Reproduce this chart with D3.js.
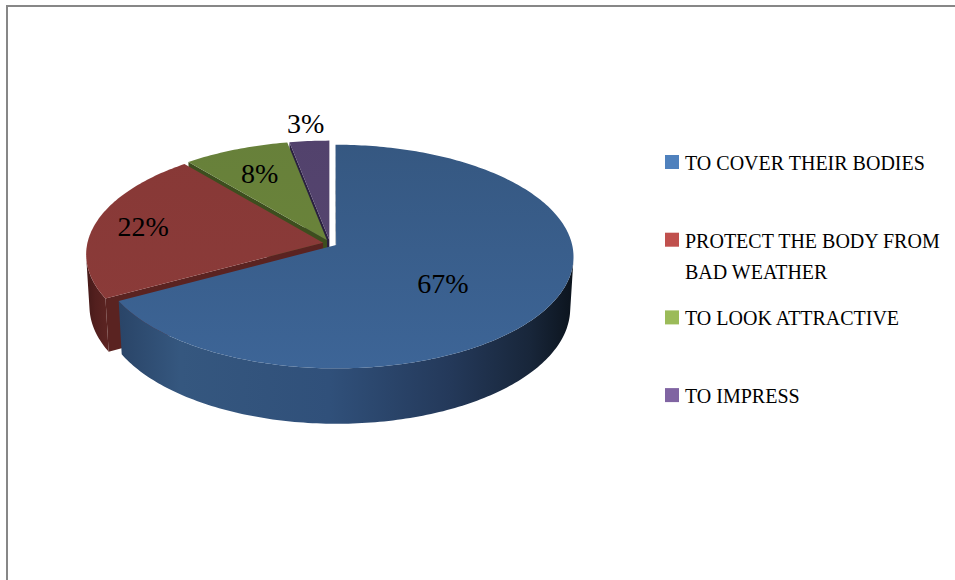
<!DOCTYPE html>
<html lang="en">
<head>
    <meta charset="UTF-8">
    <title>Reasons for wearing clothes</title>
    <script src="https://d3js.org/d3.v7.min.js"></script>
    <style>
        body {margin:0;background:#fff}
        svg {display:block}
    </style>
</head>
<body>
    <div id="chart"></div>
    <script>
        // data
        var categories = ["TO COVER THEIR BODIES", "PROTECT THE BODY FROM BAD WEATHER", "TO LOOK ATTRACTIVE", "TO IMPRESS"];
        var values = [67, 22, 8, 3];
        var valueLabels = ["67%", "22%", "8%", "3%"];

        // colours
        var legendColors = ["#4F81BD", "#C0504D", "#9BBB59", "#8064A2"];
        var topColors = [["#355780", "#3d6597"], ["#873836", "#8c3c3a"], ["#67803a", "#6c863a"], ["#52426c", "#574671"]];
        // side wall shading, left to right across the pie: [offset, colour]
        var sideStops = [
            [[0, "#22395a"], [0.08, "#2a4568"], [0.2, "#35577f"], [0.5, "#30507a"], [0.74, "#24395a"], [0.9, "#18263a"], [1, "#0a1119"]],
            [[0, "#3a1514"], [0.03, "#521f1e"], [0.06, "#5e2523"], [1, "#4f1e1d"]],
            [[0, "#3f501f"], [1, "#2c3815"]],
            [[0, "#2f2442"], [1, "#1d1629"]]
        ];
        var faceColors = ["#22374f", "#5a2321", "#3d4e1e", "#2a2040"];

        var W = 955, H = 580;
        var cx = 330, cy = 243.3;          // pie centre on screen
        var f = 2020, D = 8.57;            // focal length, camera distance (in radii)
        var tilt = 27.9 * Math.PI / 180;
        var depth = 0.25, explode = 0.03;
        var sinT = Math.sin(tilt), cosT = Math.cos(tilt);
        var labelR = [0.55, 0.79, 0.72, 1.2];
        var labelTurn = [7, 0, 0, 0];

        var svg = d3.select("#chart").append("svg")
            .attr("width", W)
            .attr("height", H);

        // frame (cut off at right and bottom)
        svg.append("rect")
            .attr("x", 7).attr("y", 6)
            .attr("width", 1200).attr("height", 1200)
            .attr("fill", "none")
            .attr("stroke", "#878787")
            .attr("stroke-width", 2);

        function project(x, y, z) {
            var s = y * cosT + z * sinT;
            var w = D - y * sinT + z * cosT;
            return [cx + f * x / w, cy - f * s / w];
        }

        function signedArea(p) {
            var s = 0;
            for (var i = 0; i < p.length; i++) {
                var j = (i + 1) % p.length;
                s += p[i][0] * p[j][1] - p[j][0] * p[i][1];
            }
            return s / 2;
        }

        function pathOf(p) {
            return "M" + p.map(d => d[0].toFixed(2) + "," + d[1].toFixed(2)).join("L") + "Z";
        }

        var arcs = d3.pie().sort(null).value(d => d)(values);
        arcs.forEach(function(a, i) {
            var mid = (a.startAngle + a.endAngle) / 2;
            a.i = i;
            a.mid = mid;
            a.ox = explode * Math.sin(mid);
            a.oz = explode * Math.cos(mid);
        });

        function rim(a, t, y) { return project(a.ox + Math.sin(t), y, a.oz + Math.cos(t)); }
        function apex(a, y) { return project(a.ox, y, a.oz); }

        var defs = svg.append("defs");
        arcs.forEach(function(a, i) {
            var g = defs.append("linearGradient")
                .attr("id", "side" + i)
                .attr("gradientUnits", "userSpaceOnUse")
                .attr("x1", cx - 250).attr("x2", cx + 250)
                .attr("y1", 0).attr("y2", 0);
            sideStops[i].forEach(function(s) {
                g.append("stop").attr("offset", s[0]).attr("stop-color", s[1]);
            });
            var t = defs.append("linearGradient")
                .attr("id", "top" + i)
                .attr("gradientUnits", "userSpaceOnUse")
                .attr("x1", 0).attr("x2", 0)
                .attr("y1", cy - 110).attr("y2", cy + 125);
            t.append("stop").attr("offset", 0).attr("stop-color", topColors[i][0]);
            t.append("stop").attr("offset", 1).attr("stop-color", topColors[i][1]);
        });

        // back to front
        var order = arcs.slice().sort((p, q) => q.oz - p.oz);
        var pie = svg.append("g");

        order.forEach(function(a) {
            var g = pie.append("g");
            var n = Math.max(2, Math.ceil((a.endAngle - a.startAngle) / (Math.PI / 180)));
            var ts = d3.range(n + 1).map(k => a.startAngle + (a.endAngle - a.startAngle) * k / n);

            // outer wall, only segments facing the camera
            var run = [];
            function flush() {
                if (run.length > 1) {
                    var topPts = run.map(t => rim(a, t, 0));
                    var botPts = run.map(t => rim(a, t, -depth)).reverse();
                    g.append("path").attr("d", pathOf(topPts.concat(botPts))).attr("fill", "url(#side" + a.i + ")");
                }
                run = [];
            }
            for (var k = 0; k < n; k++) {
                var q = [rim(a, ts[k], 0), rim(a, ts[k + 1], 0), rim(a, ts[k + 1], -depth), rim(a, ts[k], -depth)];
                if (signedArea(q) < 0) {
                    if (run.length === 0) run.push(ts[k]);
                    run.push(ts[k + 1]);
                } else flush();
            }
            flush();

            // radial faces
            var s0 = [apex(a, 0), rim(a, a.startAngle, 0), rim(a, a.startAngle, -depth), apex(a, -depth)];
            if (signedArea(s0) < 0) g.append("path").attr("d", pathOf(s0)).attr("fill", faceColors[a.i]);
            var s1 = [apex(a, 0), rim(a, a.endAngle, 0), rim(a, a.endAngle, -depth), apex(a, -depth)];
            if (signedArea(s1) > 0) g.append("path").attr("d", pathOf(s1)).attr("fill", faceColors[a.i]);

            // top
            var topFace = [apex(a, 0)].concat(ts.map(t => rim(a, t, 0)));
            g.append("path").attr("d", pathOf(topFace)).attr("fill", "url(#top" + a.i + ")");
        });

        // value labels
        arcs.forEach(function(a, i) {
            var t = a.mid + labelTurn[i] * Math.PI / 180;
            var p = project(a.ox + labelR[i] * Math.sin(t), 0, a.oz + labelR[i] * Math.cos(t));
            svg.append("text")
                .attr("x", p[0])
                .attr("y", p[1])
                .attr("dy", "0.35em")
                .attr("text-anchor", "middle")
                .attr("font-family", "'Liberation Serif', serif")
                .attr("font-size", "28px")
                .attr("fill", "#000")
                .text(valueLabels[i]);
        });

        // legend
        var legend = svg.append("g").attr("transform", "translate(665,155)");
        categories.forEach(function(c, i) {
            var item = legend.append("g").attr("transform", `translate(0,${i * 77.7})`);
            item.append("rect")
                .attr("width", 14).attr("height", 14)
                .attr("fill", legendColors[i]);
            var text = item.append("text")
                .attr("x", 20)
                .attr("y", 15)
                .attr("font-family", "'Liberation Serif', serif")
                .attr("font-size", "20px")
                .attr("fill", "#000");
            // wrap long entries
            var words = c.split(" "), line = [];
            var tspan = text.append("tspan").attr("x", 20).attr("dy", 0);
            words.forEach(function(w) {
                line.push(w);
                tspan.text(line.join(" "));
                if (tspan.node().getComputedTextLength() > 262 && line.length > 1) {
                    line.pop();
                    tspan.text(line.join(" "));
                    line = [w];
                    tspan = text.append("tspan").attr("x", 20).attr("dy", 31).text(w);
                }
            });
        });
    </script>
</body>
</html>
